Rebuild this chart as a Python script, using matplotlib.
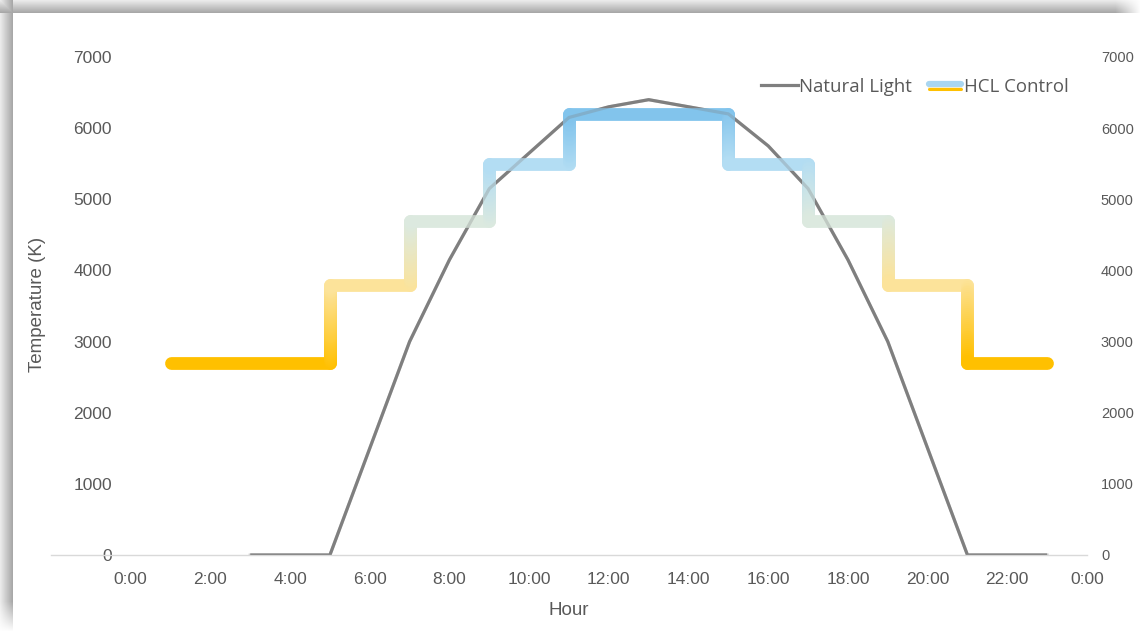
import numpy as np
import matplotlib
matplotlib.use("Agg")
import matplotlib.pyplot as plt
from matplotlib.collections import LineCollection
from matplotlib.colors import LinearSegmentedColormap, Normalize
from matplotlib.legend_handler import HandlerBase
from matplotlib.lines import Line2D

# ---- data -------------------------------------------------------------
natural_hours = [3, 4, 5, 6, 7, 8, 9, 10, 11, 12, 13, 14, 15, 16, 17, 18, 19, 20, 21, 22, 23]
natural_light = [0, 0, 0, 1500, 3000, 4150, 5150, 5650, 6150, 6300, 6400, 6300,
                 6200, 5750, 5150, 4150, 3000, 1500, 0, 0, 0]

hcl_edges = [1, 5, 7, 9, 11, 15, 17, 19, 21, 23]          # step boundaries (hours)
hcl_levels = [2700, 3800, 4700, 5500, 6200, 5500, 4700, 3800, 2700]

tick_hours = list(range(0, 25, 2))
tick_labels = ["0:00", "2:00", "4:00", "6:00", "8:00", "10:00", "12:00",
               "14:00", "16:00", "18:00", "20:00", "22:00", "0:00"]
y_ticks = [0, 1000, 2000, 3000, 4000, 5000, 6000, 7000]

# ---- styling ----------------------------------------------------------
W, H, DPI = 1147, 631, 100
TEXT = "#595959"
GRAY = "#7F7F7F"
FONT = ["Liberation Sans", "DejaVu Sans"]
plt.rcParams["font.family"] = FONT

# colour ramp of the HCL line, keyed to colour temperature
ramp_vals = [2700, 3800, 4700, 5500, 6200]
ramp_cols = ["#FFC000", "#FCE39A", "#DCE9DF", "#B3DDF3", "#82C4EC"]
vmin, vmax = ramp_vals[0], ramp_vals[-1]
cmap = LinearSegmentedColormap.from_list(
    "hcl", [((v - vmin) / (vmax - vmin), c) for v, c in zip(ramp_vals, ramp_cols)])
norm = Normalize(vmin, vmax)

fig = plt.figure(figsize=(W / DPI, H / DPI), dpi=DPI, facecolor="white")

# soft shadow band along the top and left edge of the canvas
img = np.ones((H, W, 3))
band = 13
prof = np.ones(band + 1)
prof[:band] = np.linspace(0.92, 0.66, band)
top = np.ones((H, W))
top[:band + 1, :] = prof[:, None]
fade_r = np.clip((1140 - np.arange(W)) / 25.0, 0, 1)
top = 1 - (1 - top) * fade_r[None, :]
left = np.ones((H, W))
left[:, :band + 1] = prof[None, :]
fade_b = np.clip((H - np.arange(H)) / 30.0, 0, 1)
left = 1 - (1 - left) * fade_b[:, None]
shade = np.minimum(top, left)
img *= shade[:, :, None]
fig.figimage(img, xo=0, yo=0, origin="upper", zorder=-10)

# axes box: x from -2 h to 24 h, values 0..7000
x0, x1, ytop, ybot = 51, 1087, 57, 555
ax = fig.add_axes([x0 / W, 1 - ybot / H, (x1 - x0) / W, (ybot - ytop) / H])
ax.patch.set_alpha(0)
ax.set_xlim(-2, 24)
ax.set_ylim(0, 7000)

# natural daylight curve
ax.plot(natural_hours, natural_light, color=GRAY, lw=2.3, zorder=2,
        solid_joinstyle="round", solid_capstyle="butt")

# HCL step line with vertical colour gradient
segs, vals = [], []
for i, lvl in enumerate(hcl_levels):
    a, b = hcl_edges[i], hcl_edges[i + 1]
    segs.append([(a, lvl), (b, lvl)])
    vals.append(lvl)
    if i + 1 < len(hcl_levels):
        nxt = hcl_levels[i + 1]
        ys = np.linspace(lvl, nxt, 41)
        for k in range(40):
            segs.append([(b, ys[k]), (b, ys[k + 1])])
            vals.append(0.5 * (ys[k] + ys[k + 1]))
lc = LineCollection(segs, colors=cmap(norm(np.array(vals))), linewidths=9.2,
                    capstyle="round", joinstyle="round", zorder=3)
ax.add_collection(lc)

# faint trace of the daylight curve where it runs through the HCL band
ax.plot(natural_hours, natural_light, color=GRAY, lw=2.3, alpha=0.3, zorder=4)

# axes decoration
for s in ("top", "right", "left"):
    ax.spines[s].set_visible(False)
ax.spines["bottom"].set_color("#D9D9D9")
ax.spines["bottom"].set_linewidth(1.0)
ax.spines["left"].set_position(("data", 0))

ax.set_xticks(tick_hours)
ax.set_xticklabels(tick_labels)
ax.set_yticks(y_ticks)
ax.tick_params(axis="x", length=0, pad=12, labelsize=12.5, labelcolor=TEXT)
ax.tick_params(axis="y", length=0, pad=13.5, labelsize=12.5, labelcolor=TEXT)
ax.set_xlabel("Hour", fontsize=13.5, color=TEXT, labelpad=11)

ax2 = ax.twinx()
ax2.set_ylim(0, 7000)
ax2.set_yticks(y_ticks)
for s in ax2.spines.values():
    s.set_visible(False)
ax2.tick_params(axis="y", length=0, pad=10, labelsize=10.5, labelcolor=TEXT)

fig.text(37 / W, 1 - 304 / H, "Temperature (K)", rotation=90, ha="center",
         va="center", fontsize=13.5, color=TEXT)


# legend
class GradientSwatch:
    pass


class GradientHandler(HandlerBase):
    def create_artists(self, legend, orig_handle, xdescent, ydescent,
                       width, height, fontsize, trans):
        yc = height / 2 - ydescent
        xs = [-xdescent + 2, width - xdescent - 2]
        parts = [(1.2, "#A9D6F1", 4.5), (-1.6, "#F4EDD0", 1.5), (-2.6, "#FFC000", 2.2)]
        arts = []
        for off, col, lw in parts:
            arts.append(Line2D(xs, [yc + off] * 2, color=col, lw=lw,
                               solid_capstyle="round", transform=trans))
        return arts


handles = [Line2D([], [], color=GRAY, lw=2.3), GradientSwatch()]
leg = fig.legend(handles, ["Natural Light", "HCL Control"],
                 handler_map={GradientSwatch: GradientHandler()},
                 loc="center right", bbox_to_anchor=(1069 / W, 1 - 87 / H),
                 ncol=2, frameon=False, handlelength=2.0,
                 handletextpad=0.05, columnspacing=0.75, borderpad=0,
                 borderaxespad=0, labelcolor=TEXT,
                 prop={"family": ["Open Sans", "DejaVu Sans"], "size": 13.4})

fig.savefig("out.png", dpi=DPI, facecolor="white")
